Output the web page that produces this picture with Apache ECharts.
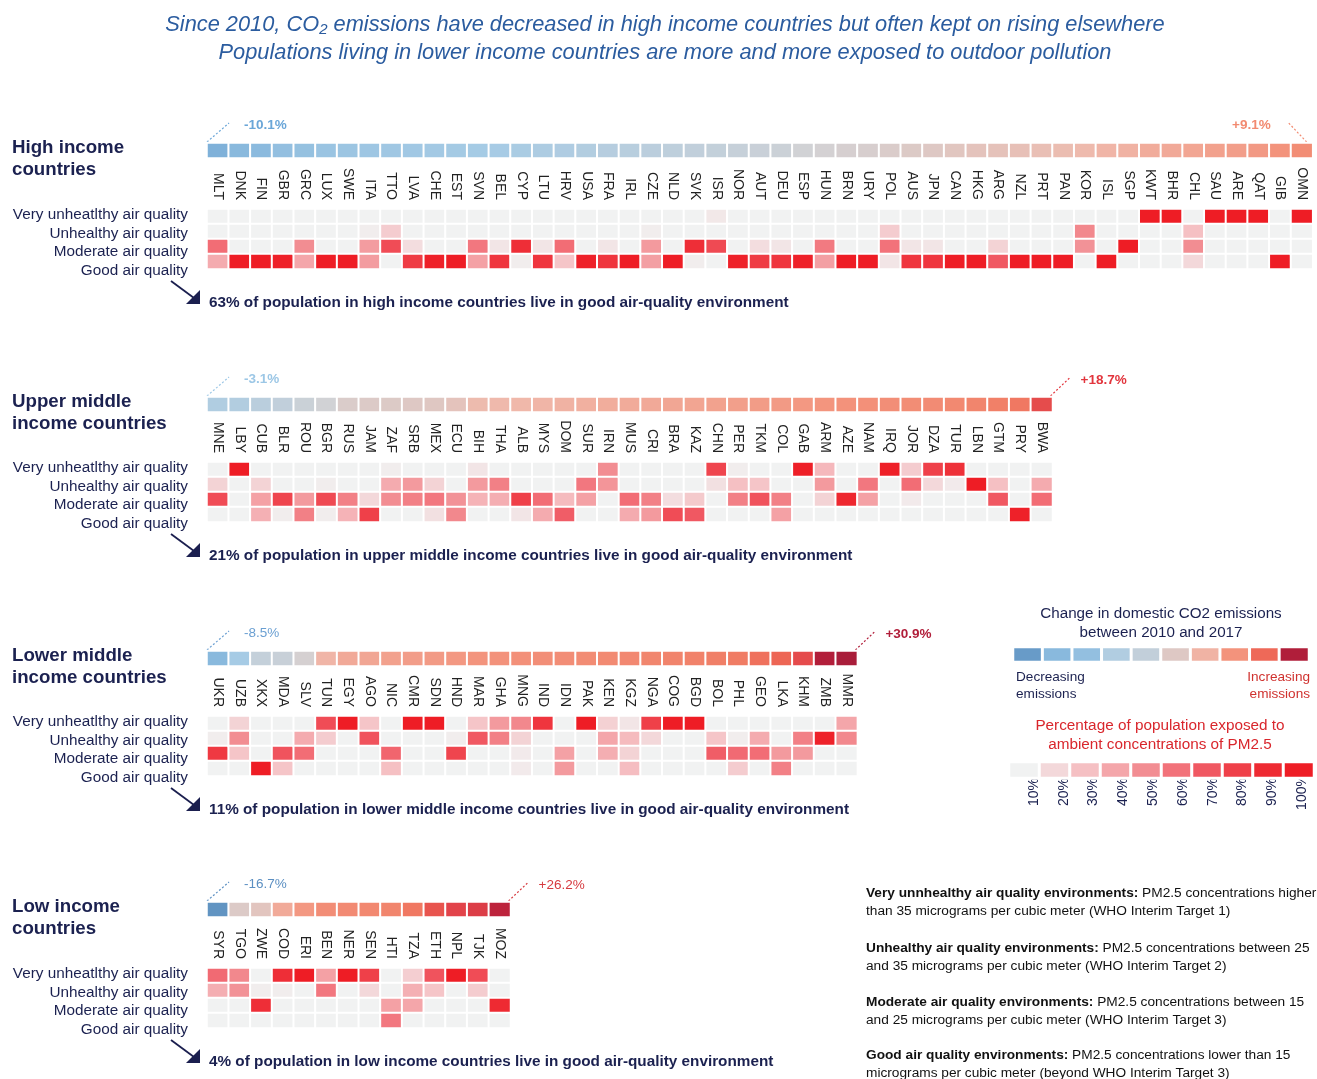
<!DOCTYPE html>
<html>
<head>
<meta charset="utf-8">
<script src="https://cdn.jsdelivr.net/npm/echarts@6/dist/echarts.min.js"></script>
<style>
  html, body { margin: 0; padding: 0; background: #fff; }
  #chart { width: 1317px; height: 1079px; }
</style>
</head>
<body>
<div id="chart"></div>
<script>
// ---- data ----
// row labels (top to bottom), typo kept as in the original
const rowLabels = ['Very unheatlthy air quality', 'Unhealthy air quality', 'Moderate air quality', 'Good air quality'];

// high income: change in CO2 emissions 2010-2017 (%), and % of population [very unhealthy, unhealthy, moderate, good]
const highCodes = ['MLT','DNK','FIN','GBR','GRC','LUX','SWE','ITA','TTO','LVA','CHE','EST','SVN','BEL','CYP','LTU','HRV','USA','FRA','IRL','CZE','NLD','SVK','ISR','NOR','AUT','DEU','ESP','HUN','BRN','URY','POL','AUS','JPN','CAN','HKG','ARG','NZL','PRT','PAN','KOR','ISL','SGP','KWT','BHR','CHL','SAU','ARE','QAT','GIB','OMN'];
const highEmis = [-10.1,-8.5,-8.2,-7.0,-6.6,-5.8,-5.6,-5.2,-5.0,-4.7,-4.5,-4.3,-4.1,-3.9,-3.6,-3.4,-3.2,-2.9,-2.6,-2.4,-2.1,-1.9,-1.6,-1.4,-1.2,-0.9,-0.7,-0.2,0.1,0.4,0.6,1.0,1.3,1.5,1.9,2.3,2.5,2.8,3.0,3.3,3.7,4.3,4.6,5.3,5.6,6.0,6.5,6.8,7.3,8.0,9.1];
const highPM = [
  [0,0,62,38],[0,0,0,100],[0,0,0,100],[0,0,3,97],[0,10,50,40],[0,0,0,100],[0,0,0,100],[0,12,44,44],[0,25,75,0],[0,0,18,82],
  [0,0,3,97],[0,0,0,100],[0,0,58,42],[0,0,15,85],[0,0,88,12],[0,0,15,85],[0,10,62,28],[0,0,3,97],[0,0,15,85],[0,0,0,100],
  [0,12,45,43],[0,0,0,100],[0,0,88,12],[14,0,76,10],[0,0,3,97],[0,0,18,82],[0,0,15,85],[0,0,3,97],[0,0,57,43],[0,0,0,100],
  [0,0,0,100],[0,25,60,15],[0,0,15,85],[0,0,15,85],[0,0,0,100],[0,0,0,100],[0,8,22,70],[0,0,0,100],[0,0,0,100],[0,0,0,100],
  [0,52,48,0],[0,0,0,100],[0,0,100,0],[100,0,0,0],[100,0,0,0],[0,30,50,20],[100,0,0,0],[100,0,0,0],[100,0,0,0],[0,0,0,100],
  [100,0,0,0]
];

// upper middle income
const upperCodes = ['MNE','LBY','CUB','BLR','ROU','BGR','RUS','JAM','ZAF','SRB','MEX','ECU','BIH','THA','ALB','MYS','DOM','SUR','IRN','MUS','CRI','BRA','KAZ','CHN','PER','TKM','COL','GAB','ARM','AZE','NAM','IRQ','JOR','DZA','TUR','LBN','GTM','PRY','BWA'];
const upperEmis = [-3.1,-2.9,-2.2,-1.6,-0.8,-0.2,1.0,1.2,1.3,1.5,1.7,2.3,3.6,3.8,4.0,4.3,4.6,4.9,5.2,5.4,5.6,5.9,6.1,6.4,6.7,7.0,7.2,7.5,7.8,8.2,8.5,8.8,9.1,9.4,9.8,10.5,11.3,12.5,18.7];
const upperPM = [
  [0,22,75,3],[100,0,0,0],[0,22,42,36],[2,8,78,12],[0,0,45,55],[0,12,76,12],[0,10,55,35],[0,0,20,80],[12,38,50,0],[0,45,55,0],
  [3,22,58,17],[0,0,48,52],[15,45,35,5],[5,55,37,3],[0,5,80,15],[0,0,62,38],[0,0,32,68],[0,58,42,0],[50,47,3,0],[0,0,62,38],
  [0,0,55,45],[2,5,18,75],[0,4,26,70],[78,17,5,0],[12,30,55,3],[0,28,72,0],[0,3,55,42],[98,0,0,2],[33,45,22,0],[0,8,92,0],
  [0,58,42,0],[98,2,0,0],[25,62,13,0],[80,20,0,0],[87,13,0,0],[0,100,0,0],[0,30,70,0],[0,0,3,97],[0,38,62,0]
];

// lower middle income
const lowerCodes = ['UKR','UZB','XKX','MDA','SLV','TUN','EGY','AGO','NIC','CMR','SDN','HND','MAR','GHA','MNG','IND','IDN','PAK','KEN','KGZ','NGA','COG','BGD','BOL','PHL','GEO','LKA','KHM','ZMB','MMR'];
const lowerEmis = [-8.5,-4.0,-1.3,-1.0,0.3,4.3,5.6,5.9,6.5,6.9,7.2,7.5,7.9,8.2,8.5,8.8,9.0,9.3,9.6,9.9,10.3,10.6,11.0,11.5,12.0,13.5,15.0,18.8,28.0,30.9];
const lowerPM = [
  [0,12,83,5],[22,50,28,0],[0,0,0,100],[0,0,72,28],[0,38,62,0],[75,25,0,0],[100,0,0,0],[28,72,0,0],[0,5,65,30],[100,0,0,0],
  [100,0,0,0],[0,12,78,10],[28,70,2,0],[45,55,0,0],[52,22,13,13],[85,9,6,0],[3,10,42,45],[100,0,0,0],[23,40,37,0],[15,32,22,31],
  [80,20,0,0],[100,0,0,0],[100,0,0,0],[0,28,68,4],[0,12,63,25],[0,38,62,0],[0,0,45,55],[0,55,45,0],[0,96,4,0],[40,52,8,0]
];

// low income
const lowCodes = ['SYR','TGO','ZWE','COD','ERI','BEN','NER','SEN','HTI','TZA','ETH','NPL','TJK','MOZ'];
const lowEmis = [-16.7,1.2,2.0,5.5,7.5,9.0,9.5,10.0,10.5,12.5,17.5,20.0,21.0,26.2];
const lowPM = [
  [63,37,0,0],[52,48,0,0],[0,12,88,0],[88,12,0,0],[100,0,0,0],[42,58,0,0],[100,0,0,0],[80,20,0,0],[0,0,42,58],[24,36,40,0],
  [72,28,0,0],[100,0,0,0],[75,25,0,0],[0,10,90,0]
];

// legends
const emisLegendValues = [-15,-8.5,-7,-3,-1.5,1.5,4.5,8,14.5,28.5];
const pmLegendValues = [10,20,30,40,50,60,70,80,90,100];
const pmLegendLabels = ['10%','20%','30%','40%','50%','60%','70%','80%','90%','100%'];

// ---- layout ----
const FONT = '"Liberation Sans", Arial, sans-serif';
const NAVY = '#1b2150';
const LEFT = 207;
const PITCH = 21.68;

const panels = [
  { title: 'High income\ncountries', codes: highCodes, emis: highEmis, pm: highPM, stripTop: 143, heatTop: 209,
    summary: '63% of population in high income countries live in good air-quality environment',
    minColor: '#6aa6d8', maxColor: '#f28a70', minBold: true, maxBold: true, maxLeft: true },
  { title: 'Upper middle\nincome countries', codes: upperCodes, emis: upperEmis, pm: upperPM, stripTop: 397, heatTop: 462,
    summary: '21% of population in upper middle income countries live in good air-quality environment',
    minColor: '#9cc7e6', maxColor: '#e2353d', minBold: true, maxBold: true },
  { title: 'Lower middle\nincome countries', codes: lowerCodes, emis: lowerEmis, pm: lowerPM, stripTop: 651, heatTop: 716,
    summary: '11% of population in lower middle income countries live in good air-quality environment',
    minColor: '#6a9fd2', maxColor: '#b11e3a', minBold: false, maxBold: true },
  { title: 'Low income\ncountries', codes: lowCodes, emis: lowEmis, pm: lowPM, stripTop: 902, heatTop: 968,
    summary: '4% of population in low income countries live in good air-quality environment',
    minColor: '#5b8fc2', maxColor: '#d63a3f', minBold: false, maxBold: false }
];

const grids = [], xAxes = [], yAxes = [], series = [], graphics = [];
const emisSeries = [], pmSeries = [];

function addGrid(g) {
  grids.push(g);
  return grids.length - 1;
}

function fmt(v) {
  return (v > 0 ? '+' : '') + v.toFixed(1) + '%';
}

panels.forEach(p => {
  const n = p.codes.length;
  const w = n * PITCH;

  // emissions strip
  let gi = addGrid({ left: LEFT, top: p.stripTop, width: w, height: 15 });
  xAxes.push({ gridIndex: gi, type: 'category', data: p.codes, show: false });
  yAxes.push({ gridIndex: gi, type: 'category', data: [''], show: false });
  emisSeries.push(series.length);
  series.push({
    type: 'heatmap', xAxisIndex: xAxes.length - 1, yAxisIndex: yAxes.length - 1,
    data: p.emis.map((v, i) => [i, 0, v]),
    itemStyle: { borderColor: '#fff', borderWidth: 2 },
    emphasis: { disabled: true }
  });

  // PM2.5 heatmap, country codes on top
  gi = addGrid({ left: LEFT, top: p.heatTop, width: w, height: 60 });
  xAxes.push({
    gridIndex: gi, type: 'category', data: p.codes, position: 'top',
    axisLine: { show: false }, axisTick: { show: false },
    axisLabel: { rotate: 90, margin: 9, interval: 0, fontSize: 14, color: '#222', fontFamily: FONT }
  });
  yAxes.push({ gridIndex: gi, type: 'category', data: rowLabels, inverse: true, show: false });
  pmSeries.push(series.length);
  const cells = [];
  p.pm.forEach((r, i) => r.forEach((v, j) => cells.push([i, j, v])));
  series.push({
    type: 'heatmap', xAxisIndex: xAxes.length - 1, yAxisIndex: yAxes.length - 1,
    data: cells,
    itemStyle: { borderColor: '#fff', borderWidth: 2 },
    emphasis: { disabled: true }
  });

  // row labels (spaced a bit wider than the cells, like the original)
  gi = addGrid({ left: LEFT, top: p.heatTop - 3, width: 10, height: 74 });
  xAxes.push({ gridIndex: gi, type: 'value', show: false });
  yAxes.push({
    gridIndex: gi, type: 'category', data: rowLabels, inverse: true,
    axisLine: { show: false }, axisTick: { show: false }, splitLine: { show: false },
    axisLabel: { interval: 0, hideOverlap: false, margin: 19, fontSize: 15.3, color: NAVY, fontFamily: FONT }
  });

  // panel title
  graphics.push({
    type: 'text', x: 12, y: p.stripTop - 6,
    style: { text: p.title, fontSize: 18.7, fontWeight: 'bold', fontFamily: FONT, fill: NAVY, lineHeight: 22, verticalAlign: 'top' }
  });

  // min / max annotations
  const minV = Math.min(...p.emis), maxV = Math.max(...p.emis);
  const st = p.stripTop;
  graphics.push({
    type: 'line', shape: { x1: LEFT, y1: st - 1, x2: LEFT + 22, y2: st - 20 },
    style: { stroke: p.minColor, lineWidth: 1.2, lineDash: [2, 2] }
  });
  graphics.push({
    type: 'text', x: LEFT + 37, y: st - 18,
    style: { text: fmt(minV), fontSize: 13.5, fontWeight: p.minBold ? 'bold' : 'normal', fontFamily: FONT, fill: p.minColor, verticalAlign: 'middle' }
  });
  const right = LEFT + w - 2;
  if (p.maxLeft) {
    graphics.push({
      type: 'line', shape: { x1: right - 4, y1: st - 1, x2: right - 22, y2: st - 20 },
      style: { stroke: p.maxColor, lineWidth: 1.2, lineDash: [2, 2] }
    });
    graphics.push({
      type: 'text', x: right - 40, y: st - 18,
      style: { text: fmt(maxV), fontSize: 13.5, fontWeight: p.maxBold ? 'bold' : 'normal', fontFamily: FONT, fill: p.maxColor, align: 'right', verticalAlign: 'middle' }
    });
  } else {
    graphics.push({
      type: 'line', shape: { x1: right, y1: st - 1, x2: right + 20, y2: st - 20 },
      style: { stroke: p.maxColor, lineWidth: 1.2, lineDash: [2, 2] }
    });
    graphics.push({
      type: 'text', x: right + 30, y: st - 17,
      style: { text: fmt(maxV), fontSize: 13.5, fontWeight: p.maxBold ? 'bold' : 'normal', fontFamily: FONT, fill: p.maxColor, verticalAlign: 'middle' }
    });
  }

  // arrow + summary
  const ht = p.heatTop;
  graphics.push({
    type: 'line', shape: { x1: 171, y1: ht + 72, x2: 194, y2: ht + 89 },
    style: { stroke: '#1b1f4f', lineWidth: 1.8 }
  });
  graphics.push({
    type: 'polygon', shape: { points: [[186, ht + 95], [200, ht + 95], [200, ht + 81]] },
    style: { fill: '#1b1f4f' }
  });
  graphics.push({
    type: 'text', x: 209, y: ht + 94,
    style: { text: p.summary, fontSize: 15.3, fontWeight: 'bold', fontFamily: FONT, fill: NAVY, verticalAlign: 'middle' }
  });
});

// legend: emissions change
let lg = addGrid({ left: 1013, top: 647, width: 296, height: 15 });
xAxes.push({ gridIndex: lg, type: 'category', data: emisLegendValues.map(String), show: false });
yAxes.push({ gridIndex: lg, type: 'category', data: [''], show: false });
emisSeries.push(series.length);
series.push({
  type: 'heatmap', xAxisIndex: xAxes.length - 1, yAxisIndex: yAxes.length - 1,
  data: emisLegendValues.map((v, i) => [i, 0, v]),
  itemStyle: { borderColor: '#fff', borderWidth: 3 },
  emphasis: { disabled: true }
});

// legend: PM2.5 share
lg = addGrid({ left: 1009, top: 762, width: 305, height: 16 });
xAxes.push({ gridIndex: lg, type: 'category', data: pmLegendLabels, show: false });
yAxes.push({ gridIndex: lg, type: 'category', data: [''], show: false });
pmSeries.push(series.length);
series.push({
  type: 'heatmap', xAxisIndex: xAxes.length - 1, yAxisIndex: yAxes.length - 1,
  data: pmLegendValues.map((v, i) => [i, 0, v]),
  itemStyle: { borderColor: '#fff', borderWidth: 3 },
  emphasis: { disabled: true }
});
// its tick labels sit toward the right side of each box in the original
lg = addGrid({ left: 1019, top: 762, width: 305, height: 16 });
xAxes.push({
  gridIndex: lg, type: 'category', data: pmLegendLabels,
  axisLine: { show: false }, axisTick: { show: false },
  axisLabel: { rotate: 90, margin: 14, interval: 0, align: 'center', fontSize: 14, color: NAVY, fontFamily: FONT }
});
yAxes.push({ gridIndex: lg, type: 'value', show: false });

// legend texts
graphics.push(
  { type: 'text', x: 1161, y: 605, style: { text: 'Change in domestic CO2 emissions\nbetween 2010 and 2017', fontSize: 15.2, lineHeight: 18.5, fontFamily: FONT, fill: NAVY, align: 'center', verticalAlign: 'top' } },
  { type: 'text', x: 1016, y: 669, style: { text: 'Decreasing\nemissions', fontSize: 13.6, lineHeight: 16.5, fontFamily: FONT, fill: NAVY, verticalAlign: 'top' } },
  { type: 'text', x: 1310, y: 669, style: { text: 'Increasing\nemissions', fontSize: 13.6, lineHeight: 16.5, fontFamily: FONT, fill: '#d0322f', align: 'right', verticalAlign: 'top' } },
  { type: 'text', x: 1160, y: 716, style: { text: 'Percentage of population exposed to\nambient concentrations of PM2.5', fontSize: 15.3, lineHeight: 19, fontFamily: FONT, fill: '#d9262c', align: 'center', verticalAlign: 'top' } }
);

// main title
graphics.push(
  { type: 'text', x: 665, y: 25, style: { text: 'Since 2010, CO\u2082 emissions have decreased in high income countries but often kept on rising elsewhere', fontSize: 21.8, fontStyle: 'italic', fontFamily: FONT, fill: '#2b5c9f', align: 'center', verticalAlign: 'middle' } },
  { type: 'text', x: 665, y: 53, style: { text: 'Populations living in lower income countries are more and more exposed to outdoor pollution', fontSize: 21.8, fontStyle: 'italic', fontFamily: FONT, fill: '#2b5c9f', align: 'center', verticalAlign: 'middle' } }
);

// definitions on the bottom right
const notes = [
  ['Very unnhealthy air quality environments:', ' PM2.5 concentrations higher', 'than 35 micrograms per cubic meter (WHO Interim Target 1)'],
  ['Unhealthy air quality environments:', ' PM2.5 concentrations between 25', 'and 35 micrograms per cubic meter (WHO Interim Target 2)'],
  ['Moderate air quality environments:', ' PM2.5 concentrations between 15', 'and 25 micrograms per cubic meter (WHO Interim Target 3)'],
  ['Good air quality environments:', ' PM2.5 concentrations lower than 15', 'micrograms per cubic meter (beyond WHO Interim Target 3)']
];
const noteTops = [884, 939, 993, 1046];
notes.forEach((nt, i) => {
  graphics.push({
    type: 'text', x: 866, y: noteTops[i],
    style: {
      text: '{b|' + nt[0] + '}{n|' + nt[1] + '}\n{n|' + nt[2] + '}',
      fontFamily: FONT, verticalAlign: 'top',
      rich: {
        b: { fontSize: 13.7, fontWeight: 'bold', lineHeight: 18, fill: '#111', fontFamily: FONT },
        n: { fontSize: 13.7, lineHeight: 18, fill: '#111', fontFamily: FONT }
      }
    }
  });
});

const chart = echarts.init(document.getElementById('chart'));
chart.setOption({
  animation: false,
  backgroundColor: '#fff',
  textStyle: { fontFamily: FONT },
  grid: grids,
  xAxis: xAxes,
  yAxis: yAxes,
  visualMap: [
    {
      type: 'continuous', show: false, seriesIndex: emisSeries, dimension: 2,
      min: -20, max: 32,
      inRange: { color: ['#5588ba','#6497c4','#74a8d4','#8cbbde','#a6cbe5','#d3d2d4','#f0b8aa','#f3937c','#f07c64','#ec5e50','#e2434a','#cb2a3e','#b21e3a','#a51c3a'] }
    },
    {
      type: 'continuous', show: false, seriesIndex: pmSeries, dimension: 2,
      min: 10, max: 100,
      inRange: { color: ['#f1f2f2','#f3d8da','#f5c0c3','#f4a6aa','#f28d92','#f2727a','#f05862','#ef4049','#ee2a32','#ee1d25'] }
    }
  ],
  series: series,
  graphic: { elements: graphics }
});
</script>
</body>
</html>
